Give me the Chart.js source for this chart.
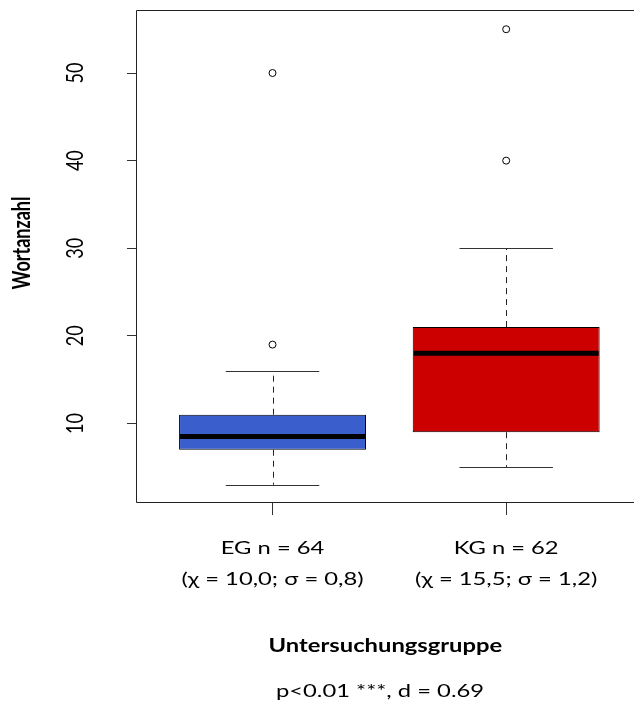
<!DOCTYPE html>
<html>
<head>
<meta charset="utf-8">
<script src="https://cdn.jsdelivr.net/npm/chart.js@4.4.1/dist/chart.umd.min.js"></script>
<style>
  html, body { margin: 0; padding: 0; background: #fff; overflow: hidden; }
  canvas { display: block; }
</style>
</head>
<body>
<canvas id="boxChart" width="639" height="722"></canvas>
<script>
// Word counts per study group, summarised as box plot statistics
const groups = ['EG', 'KG'];
const groupLabels = [
    ['EG n = 64', '(χ = 10,0; σ = 0,8)'],
    ['KG n = 62', '(χ = 15,5; σ = 1,2)']
];
const q1 = [7, 9];
const q3 = [11, 21];
const medians = [8.5, 18];
const whiskerLow = [3, 5];
const whiskerHigh = [16, 30];
const outliers = [[19, 50], [40, 55]];
const boxColors = ['#3a5fcd', '#cd0000'];
const yTicks = [10, 20, 30, 40, 50];
const yTitle = 'Wortanzahl';
const xTitle = 'Untersuchungsgruppe';
const testNote = 'p<0.01 ***, d = 0.69';

// the exported figure renders its text slightly wide, so text is drawn with a horizontal stretch
const TEXT_STRETCH = 1.32;
const FONT = 'Lato, "Open Sans", sans-serif';

function drawText(ctx, text, x, y, font, rotate) {
    ctx.save();
    ctx.translate(x, y);
    ctx.scale(TEXT_STRETCH, 1);
    if (rotate) ctx.rotate(-Math.PI / 2);
    ctx.font = font;
    ctx.fillStyle = '#000';
    ctx.textAlign = 'center';
    ctx.textBaseline = rotate ? 'middle' : 'alphabetic';
    ctx.fillText(text, 0, 0);
    ctx.restore();
}

const boxplotParts = {
    id: 'boxplotParts',
    afterDatasetsDraw(chart) {
        const { ctx, chartArea, scales: { x, y } } = chart;
        ctx.save();

        groups.forEach((g, i) => {
            const cx = x.getPixelForValue(i + 1);
            const capL = x.getPixelForValue(i + 1 - 0.2);
            const capR = x.getPixelForValue(i + 1 + 0.2);
            const boxL = x.getPixelForValue(i + 1 - 0.4);
            const boxR = x.getPixelForValue(i + 1 + 0.4);
            const px = Math.round(cx) + 0.5;

            // dashed whiskers
            ctx.strokeStyle = '#222';
            ctx.lineWidth = 1;
            ctx.setLineDash([6, 5]);
            ctx.beginPath();
            ctx.moveTo(px, y.getPixelForValue(q3[i]));
            ctx.lineTo(px, y.getPixelForValue(whiskerHigh[i]));
            ctx.moveTo(px, y.getPixelForValue(q1[i]));
            ctx.lineTo(px, y.getPixelForValue(whiskerLow[i]));
            ctx.stroke();
            ctx.setLineDash([]);

            // whisker caps
            ctx.strokeStyle = '#333';
            ctx.beginPath();
            [whiskerHigh[i], whiskerLow[i]].forEach(v => {
                const py = Math.round(y.getPixelForValue(v)) + 0.5;
                ctx.moveTo(capL, py);
                ctx.lineTo(capR, py);
            });
            ctx.stroke();

            // median
            ctx.strokeStyle = '#000';
            ctx.lineWidth = 5;
            ctx.beginPath();
            const my = y.getPixelForValue(medians[i]);
            ctx.moveTo(boxL + 1, my);
            ctx.lineTo(boxR - 1, my);
            ctx.stroke();
        });

        // plot frame
        ctx.strokeStyle = '#222';
        ctx.lineWidth = 1;
        ctx.beginPath();
        ctx.moveTo(chartArea.right, chartArea.top - 0.5);
        ctx.lineTo(chartArea.left - 0.5, chartArea.top - 0.5);
        ctx.lineTo(chartArea.left - 0.5, chartArea.bottom - 0.5);
        ctx.lineTo(chartArea.right, chartArea.bottom - 0.5);
        ctx.stroke();
        ctx.restore();
    },
    afterDraw(chart) {
        const { ctx, scales: { x, y } } = chart;
        const regular = '18px ' + FONT;
        const bold = 'bold 18px ' + FONT;

        y.ticks.forEach(t => {
            drawText(ctx, String(t.value), 75, y.getPixelForValue(t.value), regular, true);
        });
        drawText(ctx, yTitle, 22, 243, bold, true);

        x.ticks.forEach((t, i) => {
            const px = x.getPixelForValue(t.value);
            drawText(ctx, groupLabels[i][0], px, 554, regular, false);
            drawText(ctx, groupLabels[i][1], px, 585, regular, false);
        });
        drawText(ctx, xTitle, (x.getPixelForValue(1) + x.getPixelForValue(2)) / 2 - 4, 652, bold, false);
        drawText(ctx, testNote, 380, 697, regular, false);
    }
};

const outlierPoints = [];
outliers.forEach((vals, i) => vals.forEach(v => outlierPoints.push({ x: i + 1, y: v })));

new Chart(document.getElementById('boxChart'), {
    type: 'bar',
    data: {
        datasets: [{
            label: 'IQR',
            data: groups.map((g, i) => ({ x: i + 1, y: [q1[i], q3[i]] })),
            backgroundColor: boxColors,
            borderColor: '#000',
            borderWidth: 1,
            borderSkipped: false,
            barPercentage: 1,
            categoryPercentage: 0.8
        }, {
            type: 'scatter',
            label: 'Ausreißer',
            data: outlierPoints,
            pointRadius: 3.5,
            pointBorderWidth: 1,
            pointBorderColor: '#000',
            pointBackgroundColor: '#fff'
        }]
    },
    options: {
        responsive: false,
        animation: false,
        layout: { padding: { top: 11, right: 0, bottom: 0, left: 0 } },
        plugins: {
            legend: { display: false },
            tooltip: { enabled: false }
        },
        scales: {
            x: {
                type: 'linear',
                offset: false,
                min: 0.42,
                max: 2.547,
                afterBuildTicks: scale => { scale.ticks = groups.map((g, i) => ({ value: i + 1 })); },
                afterFit: scale => { scale.height = 219; },
                ticks: { display: false },
                border: { display: false },
                grid: { offset: false, drawOnChartArea: false, drawTicks: true, tickLength: 12, color: '#333' }
            },
            y: {
                type: 'linear',
                min: 0.92,
                max: 57.08,
                afterBuildTicks: scale => { scale.ticks = yTicks.map(v => ({ value: v })); },
                afterFit: scale => { scale.width = 137; },
                ticks: { display: false },
                border: { display: false },
                grid: { drawOnChartArea: false, drawTicks: true, tickLength: 10, color: '#333' }
            }
        }
    },
    plugins: [boxplotParts]
});
</script>
</body>
</html>
